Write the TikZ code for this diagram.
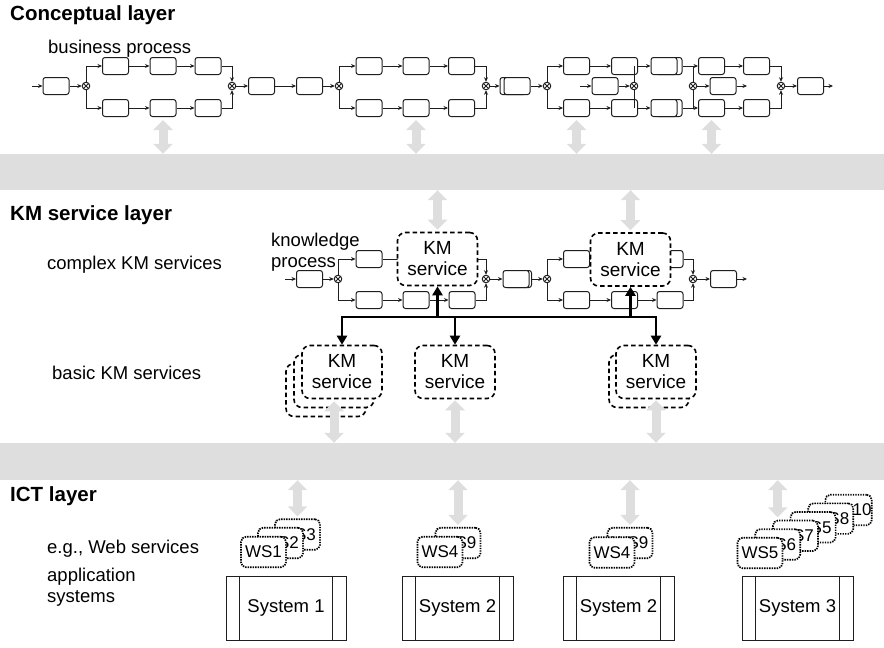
\documentclass[tikz,border=0pt]{standalone}
\usepackage{fontspec}
\setmainfont{Liberation Sans}
\usepackage{tikz}
\usetikzlibrary{arrows.meta,positioning,calc}
\definecolor{Ink}{HTML}{1E1E1E}
\definecolor{LayerGray}{HTML}{DEDEDE}

\begin{document}
\begin{tikzpicture}[x=1pt,y=-1pt]
  \path[use as bounding box] (0,0) rectangle (884,648);

  \tikzset{
    kmTitle/.style={anchor=base west, inner sep=0,
      font=\fontsize{20.5}{24}\selectfont\bfseries},
    kmLabel/.style={anchor=base west, inner sep=0,
      font=\fontsize{18.5}{21}\selectfont},
    kmTask/.style={draw=Ink, fill=white, line width=1pt,
      rounded corners=2.5pt, minimum width=26pt, minimum height=17pt,
      inner sep=0},
    kmGate/.style={circle, draw=Ink, fill=white, line width=1pt,
      minimum size=7.5pt, inner sep=0,
      path picture={\draw[line width=.8pt]
        (path picture bounding box.north west) -- (path picture bounding box.south east)
        (path picture bounding box.north east) -- (path picture bounding box.south west);}},
    kmFlow/.style={draw=Ink, line width=.9pt, -{Stealth[length=4.5pt,width=4pt]}},
    kmLine/.style={draw=Ink, line width=.9pt},
    kmBand/.style={fill=LayerGray, minimum width=884pt, minimum height=36pt,
      inner sep=0},
    kmBiArrow/.style={draw=LayerGray, line width=9pt,
      {Triangle[length=10pt,width=19pt]}-{Triangle[length=10pt,width=19pt]}},
    kmService/.style={draw=black, fill=white, line width=1.6pt,
      dash pattern=on 4.5pt off 3pt, rounded corners=8pt,
      minimum width=80pt, minimum height=53pt, inner sep=0, align=center,
      font=\fontsize{19}{21}\selectfont},
    kmBus/.style={draw=black, line width=2.4pt},
    kmWebService/.style={draw=black, fill=white, line width=1.7pt,
      dash pattern=on 1.4pt off 1.1pt, rounded corners=5pt,
      minimum width=45pt, minimum height=30.5pt, inner sep=0,
      font=\fontsize{17}{18}\selectfont},
    kmSystem/.style={draw=Ink, line width=.9pt, minimum height=64pt,
      inner sep=0, font=\fontsize{18.5}{21}\selectfont}
  }

  % layer bands
  \node[kmBand] (bandTop) at (442,172) {};
  \node[kmBand, minimum height=37pt] (bandLow) at (442,461.5) {};

  \node[kmTitle] (titleConcept) at (10,20) {Conceptual layer};
  \node[kmTitle] (titleService) at (10,220) {KM service layer};
  \node[kmTitle] (titleIct) at (10,501) {ICT layer};
  \node[kmLabel] (lblBusiness) at (48,53) {business process};
  \node[kmLabel] (lblComplex) at (47,269) {complex KM services};
  \node[kmLabel] (lblKnowledge) at (271,246) {knowledge};
  \node[kmLabel] (lblProcess) at (271,267) {process};
  \node[kmLabel] (lblBasic) at (52,379) {basic KM services};
  \node[kmLabel] (lblWeb) at (47,553) {e.g., Web services};
  \node[kmLabel] (lblApplication) at (47,581) {application};
  \node[kmLabel] (lblSystems) at (47,602) {systems};

  % business process
  \coordinate (bpStart) at (32,86);
  \node[kmTask] (bpIn) at (56,86) {};
  \node[kmGate] (bpSplitA) at (86,86) {};
  \foreach \i/\x in {1/115.5,2/163,3/208}{
    \node[kmTask] (bpUpA\i) at (\x,66) {};
    \node[kmTask] (bpLowA\i) at (\x,108) {};
  }
  \node[kmGate] (bpJoinA) at (232,86) {};
  \node[kmTask] (bpMidA) at (261.5,86) {};
  \node[kmTask] (bpMidB) at (309.5,86) {};
  \node[kmGate] (bpSplitB) at (339,86) {};
  \foreach \i/\x in {1/369,2/416,3/461.5}{
    \node[kmTask] (bpUpB\i) at (\x,66) {};
    \node[kmTask] (bpLowB\i) at (\x,108) {};
  }
  \node[kmGate] (bpJoinB) at (486,86) {};
  \node[kmTask] (bpMidCBack) at (513,86) {};
  \node[kmTask] (bpMidC) at (517,86) {};
  \node[kmGate] (bpSplitC) at (547,86) {};
  \node[kmTask] (bpUpC3Back) at (669,66) {};
  \node[kmTask] (bpLowC3Back) at (669,108) {};
  \foreach \i/\x in {1/576.5,2/624.5,3/664,4/711.5,5/756.5}{
    \node[kmTask] (bpUpC\i) at (\x,66) {};
    \node[kmTask] (bpLowC\i) at (\x,108) {};
  }
  \coordinate (bpSideStart) at (580,86);
  \node[kmTask] (bpSideIn) at (605,86) {};
  \draw[kmLine] (634,66) -- (634,108);
  \draw[kmLine] (693,66) -- (693,108);
  \node[kmGate] (bpGateD) at (634,86) {};
  \node[kmGate] (bpGateE) at (693,86) {};
  \node[kmTask] (bpSideOut) at (723,86) {};
  \coordinate (bpSideEnd) at (747,86);
  \node[kmGate] (bpJoinC) at (781,86) {};
  \node[kmTask] (bpOut) at (810.5,86) {};
  \coordinate (bpEnd) at (833,86);

  \draw[kmFlow] (bpStart) -- (bpIn);
  \draw[kmFlow] (bpIn) -- (bpSplitA);
  \draw[kmFlow] (bpJoinA) -- (bpMidA);
  \draw[kmFlow] (bpMidA) -- (bpMidB);
  \draw[kmFlow] (bpMidB) -- (bpSplitB);
  \draw[kmFlow] (bpJoinB) -- (bpMidCBack);
  \draw[kmFlow] (bpMidC) -- (bpSplitC);
  \draw[kmFlow] (bpSideStart) -- (bpSideIn);
  \draw[kmFlow] (bpSideIn) -- (bpGateD);
  \draw[kmFlow] (bpGateE) -- (bpSideOut);
  \draw[kmFlow] (bpSideOut) -- (bpSideEnd);
  \draw[kmFlow] (bpJoinC) -- (bpOut);
  \draw[kmFlow] (bpOut) -- (bpEnd);
  \foreach \row in {Up,Low}{
    \draw[kmFlow] (bpSplitA) |- (bp\row A1);
    \draw[kmFlow] (bp\row A1) -- (bp\row A2);
    \draw[kmFlow] (bp\row A2) -- (bp\row A3);
    \draw[kmFlow] (bp\row A3) -| (bpJoinA);
    \draw[kmFlow] (bpSplitB) |- (bp\row B1);
    \draw[kmFlow] (bp\row B1) -- (bp\row B2);
    \draw[kmFlow] (bp\row B2) -- (bp\row B3);
    \draw[kmFlow] (bp\row B3) -| (bpJoinB);
    \draw[kmFlow] (bpSplitC) |- (bp\row C1);
    \draw[kmFlow] (bp\row C1) -- (bp\row C2);
    \draw[kmFlow] (bp\row C2) -- (bp\row C3);
    \draw[kmFlow] (bp\row C3Back) -- (bp\row C4);
    \draw[kmFlow] (bp\row C4) -- (bp\row C5);
    \draw[kmFlow] (bp\row C5) -| (bpJoinC);
  }
  \foreach \n in {bpLowA2,bpLowB2,bpLowC1,bpLowC4}
    \draw[kmBiArrow, shorten <=3pt] (\n.south) -- (\n.south |- bandTop.north);

  % knowledge process
  \coordinate (kpStart) at (285,279);
  \node[kmTask] (kpIn) at (309.5,279) {};
  \node[kmGate] (kpSplitA) at (338,279) {};
  \foreach \i/\x in {1/369,2/416,3/462}{
    \node[kmTask] (kpUpA\i) at (\x,259) {};
    \node[kmTask] (kpLowA\i) at (\x,300) {};
  }
  \node[kmGate] (kpJoinA) at (486,279) {};
  \node[kmTask] (kpMidBack) at (518.5,279) {};
  \node[kmTask] (kpMid) at (516,279) {};
  \node[kmGate] (kpSplitB) at (547,279) {};
  \foreach \i/\x in {1/576.5,2/624.5,3/670}{
    \node[kmTask] (kpUpB\i) at (\x,259) {};
    \node[kmTask] (kpLowB\i) at (\x,300) {};
  }
  \node[kmGate] (kpJoinB) at (693,279) {};
  \node[kmTask] (kpOut) at (723.5,279) {};
  \coordinate (kpEnd) at (747,279);

  \draw[kmFlow] (kpStart) -- (kpIn);
  \draw[kmFlow] (kpIn) -- (kpSplitA);
  \draw[kmFlow] (kpJoinA) -- (kpMid);
  \draw[kmFlow] (kpMidBack) -- (kpSplitB);
  \draw[kmFlow] (kpJoinB) -- (kpOut);
  \draw[kmFlow] (kpOut) -- (kpEnd);
  \foreach \row in {Up,Low}{
    \draw[kmFlow] (kpSplitA) |- (kp\row A1);
    \draw[kmFlow] (kp\row A1) -- (kp\row A2);
    \draw[kmFlow] (kp\row A2) -- (kp\row A3);
    \draw[kmFlow] (kp\row A3) -| (kpJoinA);
    \draw[kmFlow] (kpSplitB) |- (kp\row B1);
    \draw[kmFlow] (kp\row B1) -- (kp\row B2);
    \draw[kmFlow] (kp\row B2) -- (kp\row B3);
    \draw[kmFlow] (kp\row B3) -| (kpJoinB);
  }

  \node[kmService] (kmComplexA) at (437.5,259) {KM\\service};
  \node[kmService] (kmComplexB) at (630.5,259.5) {KM\\service};
  \draw[kmBiArrow, shorten >=2pt] (kmComplexA.north |- bandTop.south) -- (kmComplexA.north);
  \draw[kmBiArrow, shorten >=2pt] (kmComplexB.north |- bandTop.south) -- (kmComplexB.north);

  % basic services
  \node[kmService] (kmBasicA3) at (326,390) {};
  \node[kmService] (kmBasicA2) at (334,381) {};
  \node[kmService] (kmBasicA) at (342,372) {KM\\service};
  \node[kmService] (kmBasicB) at (455,372) {KM\\service};
  \node[kmService] (kmBasicC2) at (649,381) {};
  \node[kmService] (kmBasicC) at (656,372) {KM\\service};

  \coordinate (kmBusY) at (0,317);
  \draw[kmBus, {Triangle[length=9pt,width=10pt]}-{Triangle[length=9pt,width=10pt]}]
    (kmBasicA.north) |- (kmBasicB |- kmBusY) -| (kmBasicC.north);
  \draw[kmBus, -{Triangle[length=9pt,width=10pt]}] (kmBasicB |- kmBusY) -- (kmBasicB.north);
  \draw[kmBus, -{Triangle[length=9pt,width=10pt]}] (kmComplexA |- kmBusY) -- (kmComplexA.south);
  \draw[kmBus, -{Triangle[length=9pt,width=10pt]}] (kmComplexB |- kmBusY) -- (kmComplexB.south);

  \draw[kmBiArrow] ([yshift=7pt]kmBasicA2.south) -- (kmBasicA2.south |- bandLow.north);
  \draw[kmBiArrow, shorten <=1pt] (kmBasicB.south) -- (kmBasicB.south |- bandLow.north);
  \draw[kmBiArrow, shorten <=1pt] (kmBasicC.south) -- (kmBasicC.south |- bandLow.north);

  % web services
  \foreach \name/\x/\y/\lab in {wsA3/297.5/534.5/WS3, wsA2/280.5/543/WS2, wsA1/263.5/552/WS1,
      wsB2/458/543/WS9, wsB1/440/552/WS4, wsC2/630/543/WS9, wsC1/612/552.5/WS4,
      wsD6/848.5/510/WS10, wsD5/830.8/518.6/WS8, wsD4/813.1/527.2/WS5,
      wsD3/795.4/535.8/WS7, wsD2/777.7/544.4/WS6, wsD1/760/553/WS5}
    \node[kmWebService] (\name) at (\x,\y) {\lab};

  \draw[kmBiArrow, shorten >=2pt] (wsA3.north |- bandLow.south) -- (wsA3.north);
  \draw[kmBiArrow, shorten >=2pt] (wsB2.north |- bandLow.south) -- (wsB2.north);
  \draw[kmBiArrow, shorten >=2pt] (wsC2.north |- bandLow.south) -- (wsC2.north);
  \draw[kmBiArrow, shorten >=11pt] (wsD2.north |- bandLow.south) -- (wsD2.north);

  % application systems
  \foreach \name/\x/\w/\lab in {sysOne/286/120/System 1, sysTwo/457.5/111/System 2,
      sysThree/618.5/111/System 2, sysFour/797.5/111/System 3}{
    \node[kmSystem, minimum width=\w pt] (\name) at (\x,608) {\lab};
    \draw[kmLine] ([xshift=14pt]\name.north west) -- ([xshift=14pt]\name.south west);
    \draw[kmLine] ([xshift=-14pt]\name.north east) -- ([xshift=-14pt]\name.south east);
  }
\end{tikzpicture}
\end{document}
